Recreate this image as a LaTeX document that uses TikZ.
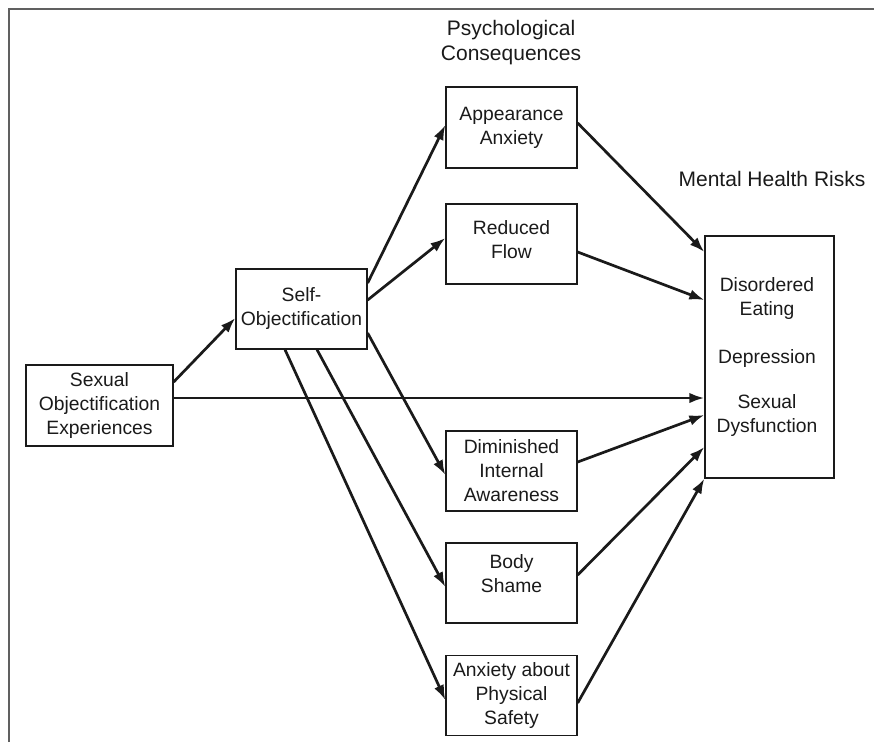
\documentclass[tikz,border=0pt]{standalone}
\usepackage{fontspec}
\setmainfont{Liberation Sans}
\usetikzlibrary{arrows.meta}
\definecolor{ink}{HTML}{1A1A1A}
\definecolor{framec}{HTML}{606060}
\begin{document}
\begin{tikzpicture}[x=1pt,y=-1pt,
  box/.style={draw=ink,line width=1.3pt,rectangle,inner sep=0pt,align=center,
    font=\fontsize{19.3}{24}\selectfont,text=ink},
  txt/.style={inner sep=0pt,align=center,font=\fontsize{19.3}{24}\selectfont,text=ink},
  ttl/.style={inner sep=0pt,align=center,font=\fontsize{21}{25}\selectfont,text=ink},
  arr/.style={draw=ink,line width=2.7pt,-{Latex[length=15pt,width=10.5pt]}}]
\useasboundingbox (0,0) rectangle (874,742);
% frame
\draw[framec,line width=2pt] (9,742) -- (9,9) -- (874,9);
% titles
\node[ttl] (t1) at (511,42.5) {Psychological\\Consequences};
\node[ttl] (t2) at (772,179) {Mental Health Risks};
% boxes
\node[box,minimum width=147pt,minimum height=81pt] (soe) at (99.5,405.5) {Sexual\\Objectification\\Experiences};
\node[box,minimum width=131pt,minimum height=80pt] (so) at (301.5,309) {Self-\\Objectification};
\node[box,minimum width=131pt,minimum height=81pt] (aa) at (511.5,127.5) {Appearance\\Anxiety};
\node[box,minimum width=131pt,minimum height=80pt] (rf) at (511.5,244) {};
\node[txt] (rft) at ([yshift=4.5pt]rf.center) {Reduced\\Flow};
\node[box,minimum width=131pt,minimum height=80pt] (dia) at (511.5,471) {Diminished\\Internal\\Awareness};
\node[box,minimum width=131pt,minimum height=80pt] (bs) at (511.5,583) {};
\node[txt] (bst) at ([yshift=9pt]bs.center) {Body\\Shame};
\node[box,minimum width=131pt,minimum height=80pt] (aps) at (511.5,695.5) {Anxiety about\\Physical\\Safety};
\node[box,minimum width=129pt,minimum height=242pt] (mh) at (769.5,357) {};
\node[txt] (mht) at ([xshift=-2.5pt]mh.center) {Disordered\\Eating\\[23pt]Depression\\[21pt]Sexual\\Dysfunction};
% arrows
\draw[arr] ([yshift=23.5pt]soe.east) -- ([yshift=-9pt]so.west);
\draw[arr] ([yshift=7.5pt]soe.east) -- ([yshift=-41pt]mh.west);
\draw[arr] ([yshift=26pt]so.east) -- ([yshift=2.5pt]aa.west);
\draw[arr] ([yshift=9pt]so.east) -- ([yshift=6pt]rf.west);
\draw[arr] ([yshift=-24pt]so.east) -- ([yshift=-4pt]dia.west);
\draw[arr] ([xshift=15.5pt]so.south) -- ([yshift=-4pt]bs.west);
\draw[arr] ([xshift=-16.5pt]so.south) -- ([yshift=-4.5pt]aps.west);
\draw[arr] ([yshift=4.5pt]aa.east) -- ([yshift=105pt]mh.west);
\draw[arr] ([yshift=-8pt]rf.east) -- ([yshift=57pt]mh.west);
\draw[arr] ([yshift=9pt]dia.east) -- ([yshift=-58pt]mh.west);
\draw[arr] ([yshift=8pt]bs.east) -- ([yshift=-90pt]mh.west);
\draw[arr] ([yshift=-7.5pt]aps.east) -- (mh.south west);
\end{tikzpicture}
\end{document}
